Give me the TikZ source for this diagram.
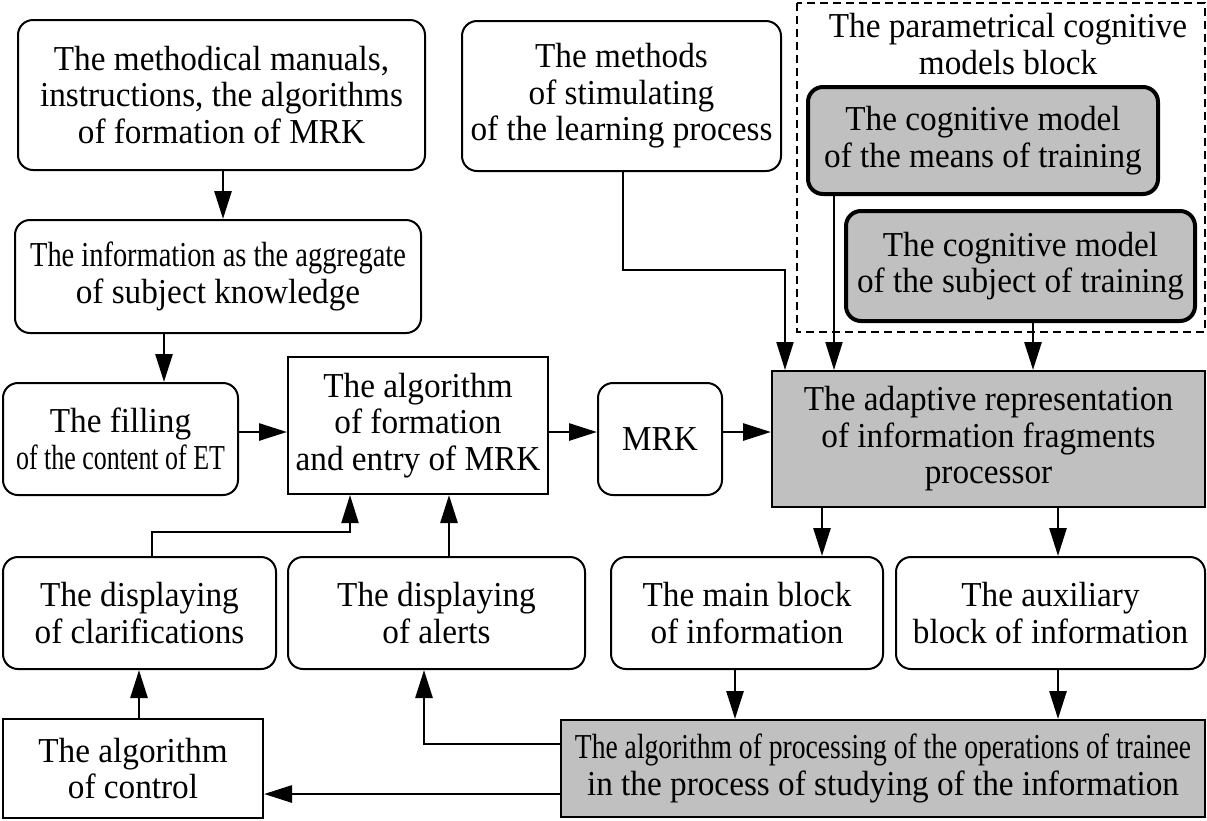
\documentclass[tikz,border=0pt]{standalone}
\usepackage{fontspec}
\usepackage{graphicx}
\setmainfont[FakeStretch=0.95]{Liberation Serif}
\usetikzlibrary{arrows.meta}
\definecolor{boxgray}{HTML}{C0C0C0}
\newcommand{\sq}[2]{\scalebox{#1}[1]{#2}}
\begin{document}
\begin{tikzpicture}[x=1pt,y=-1pt,
  every node/.style={font=\fontsize{35}{36.5}\selectfont, align=center, inner sep=0pt},
  rbox/.style={draw, line width=2pt, rounded corners=15pt, fill=white},
  sbox/.style={draw, line width=2pt, fill=white},
  gbox/.style={draw, line width=2pt, fill=boxgray},
  cbox/.style={draw, line width=4pt, rounded corners=15pt, fill=boxgray},
  arr/.style={line width=2.8pt, -{Triangle[length=28pt,width=17pt]}},
  tarr/.style={line width=2pt, -{Triangle[length=28pt,width=17pt]}}
]
\useasboundingbox (0,0) rectangle (1207,820);

% dashed block
\draw[line width=1.5pt, dash pattern=on 8pt off 5pt] (797,3) rectangle (1205,332);
\node (title) at (1008,44) {The parametrical cognitive\\models block};

% nodes
\node[rbox, minimum width=407pt, minimum height=150pt] (A) at (221.5,95)
  {The methodical manuals,\\instructions, the algorithms\\of formation of MRK};
\node[rbox, minimum width=319pt, minimum height=150pt] (M) at (621.5,96)
  {The methods\\of stimulating\\of the learning process};
\node[cbox, minimum width=350pt, minimum height=107pt] (C1) at (983,140.5)
  {The cognitive model\\of the means of training};
\node[cbox, minimum width=349pt, minimum height=110pt] (C2) at (1020.5,266)
  {The cognitive model\\of the subject of training};
\node[rbox, minimum width=406pt, minimum height=113pt] (B) at (218,276.5)
  {\sq{0.855}{The information as the aggregate}\\of subject knowledge};
\node[rbox, minimum width=235pt, minimum height=112pt] (C) at (120.5,439)
  {The filling\\\sq{0.78}{of the content of ET}};
\node[sbox, minimum width=260pt, minimum height=137pt] (D) at (418,425.5)
  {The algorithm\\of formation\\and entry of MRK};
\node[rbox, minimum width=124pt, minimum height=112pt] (MRK) at (660,439) {MRK};
\node[gbox, minimum width=433pt, minimum height=136pt] (P) at (988.5,439)
  {The adaptive representation\\of information fragments\\processor};
\node[rbox, minimum width=273pt, minimum height=112pt] (CL) at (139.5,613)
  {The displaying\\of clarifications};
\node[rbox, minimum width=297pt, minimum height=112pt] (AL) at (436.5,613)
  {The displaying\\of alerts};
\node[rbox, minimum width=272pt, minimum height=112pt] (MB) at (747,613)
  {The main block\\of information};
\node[rbox, minimum width=309pt, minimum height=112pt] (AB) at (1050.5,613)
  {The auxiliary\\block of information};
\node[sbox, minimum width=260pt, minimum height=99pt] (CT) at (133,768.5)
  {The algorithm\\of control};
\node[gbox, minimum width=644pt, minimum height=97pt] (TA) at (883,768.5)
  {\sq{0.83}{The algorithm of processing of the operations of trainee}\\in the process of studying of the information};

% connectors
\draw[arr] (223,0 |- A.south) -- (223,0 |- B.north);
\draw[arr] (164,0 |- B.south) -- (164,0 |- C.north);
\draw[arr] (C.east |- 0,432) -- (D.west |- 0,432);
\draw[arr] (D.east |- 0,432) -- (MRK.west |- 0,432);
\draw[arr] (MRK.east |- 0,432) -- (P.west |- 0,432);
\draw[tarr] (623,0 |- M.south) -- (623,270) -- (785,270) -- (785,0 |- P.north);
\draw[tarr] (834,0 |- C1.south) -- (834,0 |- P.north);
\draw[arr] (1033,0 |- C2.south) -- (1033,0 |- P.north);
\draw[arr] (822,0 |- P.south) -- (822,0 |- MB.north);
\draw[arr] (1058,0 |- P.south) -- (1058,0 |- AB.north);
\draw[arr] (735,0 |- MB.south) -- (735,0 |- TA.north);
\draw[arr] (1058,0 |- AB.south) -- (1058,0 |- TA.north);
\draw[arr] (TA.west |- 0,744) -- (424,744) -- (424,0 |- AL.south);
\draw[arr] (TA.west |- 0,794) -- (CT.east |- 0,794);
\draw[arr] (139,0 |- CT.north) -- (139,0 |- CL.south);
\draw[tarr] (152,0 |- CL.north) -- (152,532) -- (350,532) -- (350,0 |- D.south);
\draw[arr] (449,0 |- AL.north) -- (449,0 |- D.south);
\end{tikzpicture}
\end{document}
